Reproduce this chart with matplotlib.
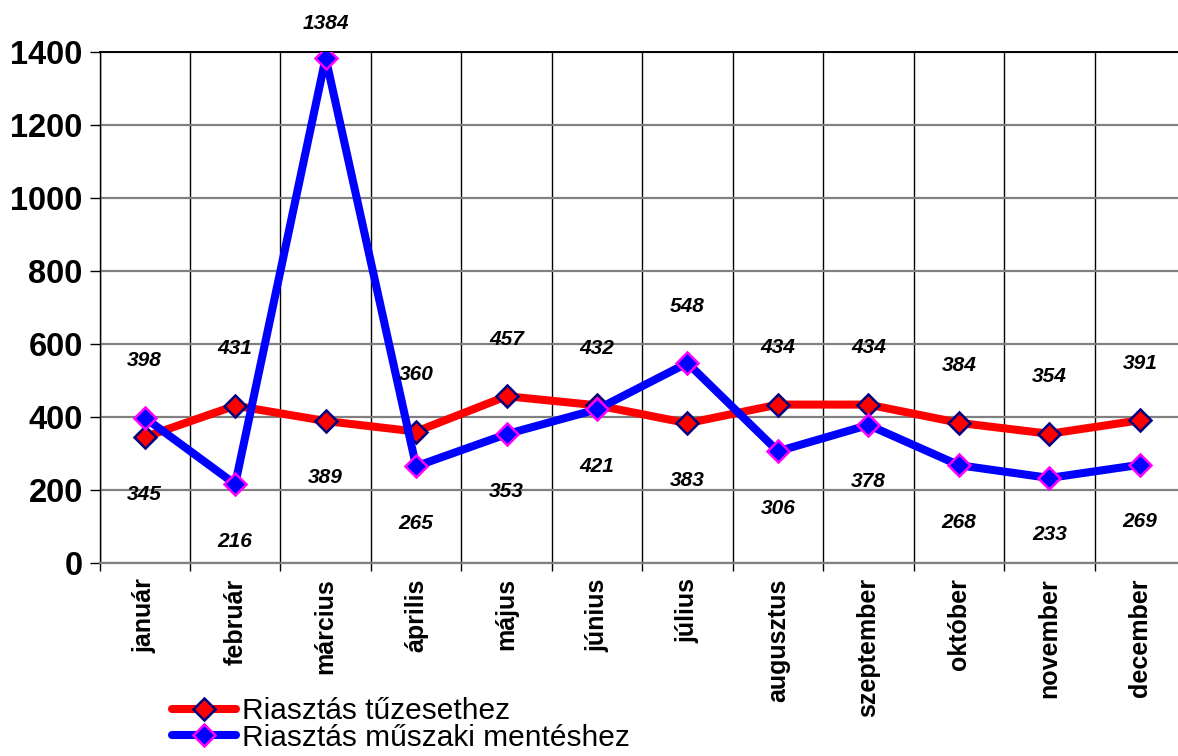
import matplotlib
matplotlib.use("Agg")
import matplotlib.pyplot as plt
from matplotlib.lines import Line2D
import numpy as np

months = ["január", "február", "március", "április", "május", "június",
          "július", "augusztus", "szeptember", "október", "november", "december"]
fire = [345, 431, 389, 360, 457, 432, 383, 434, 434, 384, 354, 391]
tech = [398, 216, 1384, 265, 353, 421, 548, 306, 378, 268, 233, 269]
series_names = ["Riasztás tűzesethez", "Riasztás műszaki mentéshez"]
yticks = [0, 200, 400, 600, 800, 1000, 1200, 1400]

plt.rcParams['font.family'] = ['Liberation Sans', 'DejaVu Sans']

W, H = 1178, 756
fig = plt.figure(figsize=(W / 100, H / 100), dpi=100)
left, right, top, bottom = 99.5, 1185, 52, 563
ax = fig.add_axes([left / W, 1 - bottom / H, (right - left) / W, (bottom - top) / H])

x = np.arange(len(months))
ax.plot(x, fire, color='#ff0000', lw=5.8, marker='D', ms=11.5,
        mfc='#ff0000', mec='#000080', mew=1.8, zorder=3, solid_joinstyle='miter')
ax.plot(x, tech, color='#0000ff', lw=5.8, marker='D', ms=11.5,
        mfc='#0000ff', mec='#ff00ff', mew=1.8, zorder=4, solid_joinstyle='miter')

for i in x:
    a, b = fire[i], tech[i]
    hi, lo = (a, b) if a >= b else (b, a)
    up = 41 if hi < 1300 else 25
    ax.annotate(str(hi), (i, hi), xytext=(0, up), textcoords='offset points',
                ha='center', va='center', fontsize=15, fontweight='bold',
                fontstyle='italic', zorder=5, annotation_clip=False)
    ax.annotate(str(lo), (i, lo), xytext=(0, -41), textcoords='offset points',
                ha='center', va='center', fontsize=15, fontweight='bold',
                fontstyle='italic', zorder=5)

ax.set_xlim(-0.5, len(months) - 0.5)
ax.set_ylim(0, 1400)
ax.set_yticks(yticks)
ax.set_yticklabels([str(v) for v in yticks], fontsize=23.5, fontweight='bold')
ax.tick_params(axis='y', length=7, width=1, pad=5, color='black')
ax.set_xticks(x)
ax.set_xticklabels(months, rotation=90, fontsize=18, fontweight='bold', va='top')
ax.tick_params(axis='x', which='major', length=0, pad=11)
ax.set_xticks(np.arange(-0.5, len(months), 1.0), minor=True)
ax.tick_params(axis='x', which='minor', length=6, width=1, color='black')
ax.grid(axis='y', which='major', color='#808080', lw=1.6, zorder=1)
ax.grid(axis='x', which='minor', color='black', lw=1.0, zorder=1)
ax.set_axisbelow(True)
ax.spines['right'].set_visible(False)
ax.spines['top'].set_color('black')
ax.spines['top'].set_linewidth(1.4)
ax.spines['left'].set_color('black')
ax.spines['left'].set_linewidth(1.0)
ax.spines['bottom'].set_color('#808080')
ax.spines['bottom'].set_linewidth(1.6)

handles = [
    Line2D([], [], color='#ff0000', lw=5.8, marker='D', ms=11.5, mfc='#ff0000',
           mec='#000080', mew=1.8, solid_capstyle='round'),
    Line2D([], [], color='#0000ff', lw=5.8, marker='D', ms=11.5, mfc='#0000ff',
           mec='#ff00ff', mew=1.8, solid_capstyle='round'),
]
fig.legend(handles, series_names, loc='upper left',
           bbox_to_anchor=(172 / W, 1 - 697 / H), frameon=False, fontsize=21.5,
           handlelength=2.15, handletextpad=0.2, labelspacing=-0.05,
           borderpad=0, borderaxespad=0, numpoints=1)

fig.savefig("out.png", dpi=100)
